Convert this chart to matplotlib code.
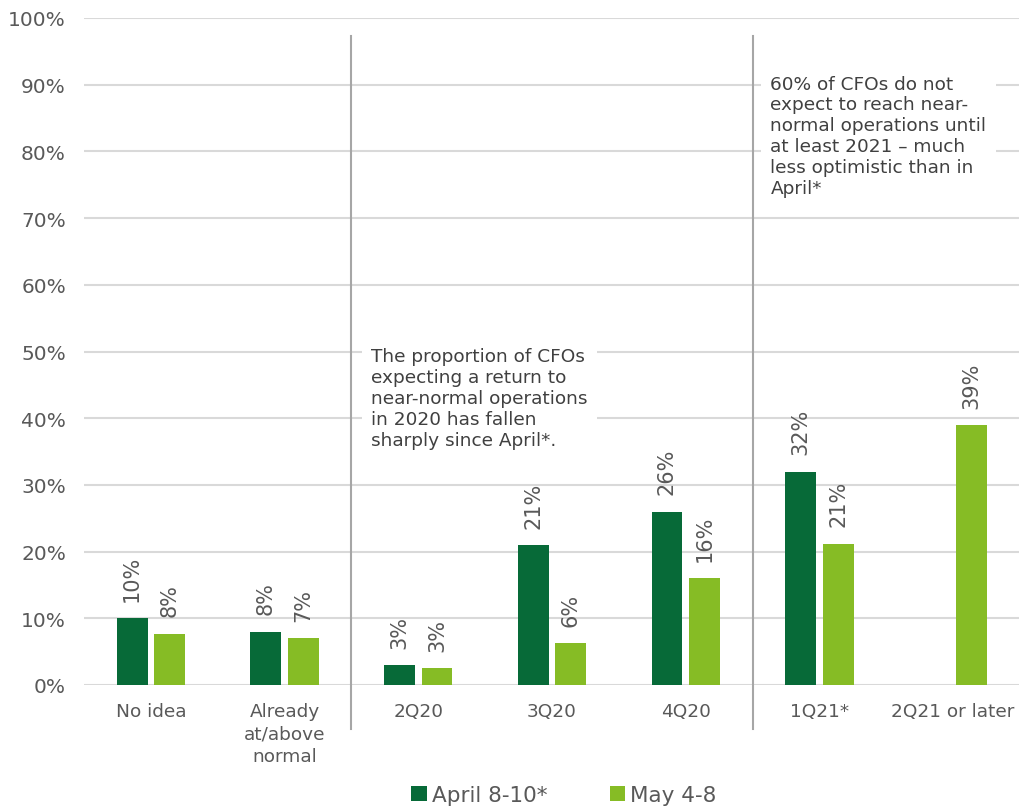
import matplotlib
matplotlib.use("Agg")
import matplotlib.pyplot as plt
from matplotlib.patches import Patch
import numpy as np

categories = ["No idea", "Already\nat/above\nnormal", "2Q20", "3Q20", "4Q20", "1Q21*", "2Q21 or later"]
april = [10, 8, 3, 21, 26, 32, None]
may = [7.7, 7, 2.5, 6.3, 16, 21.2, 39]
april_labels = ["10%", "8%", "3%", "21%", "26%", "32%", None]
may_labels = ["8%", "7%", "3%", "6%", "16%", "21%", "39%"]
series_names = ["April 8-10*", "May 4-8"]
yticks = list(range(0, 101, 10))
note1 = "The proportion of CFOs\nexpecting a return to\nnear-normal operations\nin 2020 has fallen\nsharply since April*."
note2 = "60% of CFOs do not\nexpect to reach near-\nnormal operations until\nat least 2021 \u2013 much\nless optimistic than in\nApril*"

DARK = "#076A38"
LIGHT = "#86BC25"
TXT = "#595959"

plt.rcParams['font.family'] = ['DejaVu Sans']
fig = plt.figure(figsize=(10.2, 8.12), dpi=100)
ax = fig.add_axes([84/1020, 1 - 686/812, 1 - 84/1020, (686 - 19)/812])

x = np.arange(len(categories))
w = 0.23
off = 0.14
for i in range(len(categories)):
    if april[i] is not None:
        ax.bar(x[i] - off, april[i], width=w, color=DARK, zorder=3)
        ax.annotate(april_labels[i], (x[i] - off, april[i]), xytext=(0, 12.5), textcoords="offset points",
                    rotation=90, ha="center", va="bottom", fontsize=15, color=TXT)
    ax.bar(x[i] + off, may[i], width=w, color=LIGHT, zorder=3)
    ax.annotate(may_labels[i], (x[i] + off, may[i]), xytext=(0, 12.5), textcoords="offset points",
                rotation=90, ha="center", va="bottom", fontsize=15, color=TXT)

ax.set_xlim(-0.5, 6.5)
ax.set_ylim(0, 100)
ax.set_yticks(yticks)
ax.set_yticklabels([f"{t}%" for t in yticks])
ax.set_xticks(x)
ax.set_xticklabels(categories, linespacing=1.35)
ax.tick_params(axis="y", length=0, pad=13, labelsize=14.5, labelcolor=TXT)
ax.tick_params(axis="x", length=0, pad=12, labelsize=13.3, labelcolor=TXT)
ax.yaxis.grid(True, color="#D9D9D9", linewidth=1.5, zorder=0)
ax.set_axisbelow(True)
for s in ax.spines.values():
    s.set_visible(False)

for xs in (1.5, 4.5):
    ax.plot([xs, xs], [-6.6, 97.3], color="#A6A6A6", linewidth=1.5, clip_on=False, zorder=4)

ax.text(1.649, 50.6, note1, ha="left", va="top", fontsize=13.3, color="#404040", linespacing=1.2,
        zorder=5, bbox=dict(boxstyle="square,pad=0.5", facecolor="white", edgecolor="none"))
ax.text(4.634, 91.5, note2, ha="left", va="top", fontsize=13.3, color="#404040", linespacing=1.2,
        zorder=5, bbox=dict(boxstyle="square,pad=0.5", facecolor="white", edgecolor="none"))

handles = [Patch(facecolor=DARK), Patch(facecolor=LIGHT)]
leg = fig.legend(handles, series_names, loc="lower center", bbox_to_anchor=(0.553, -0.016), ncol=2,
                 frameon=False, fontsize=15.5, handlelength=0.7, handleheight=0.7, handletextpad=0.25,
                 columnspacing=2.9)
for t in leg.get_texts():
    t.set_color(TXT)

fig.savefig("out.png", dpi=100)
